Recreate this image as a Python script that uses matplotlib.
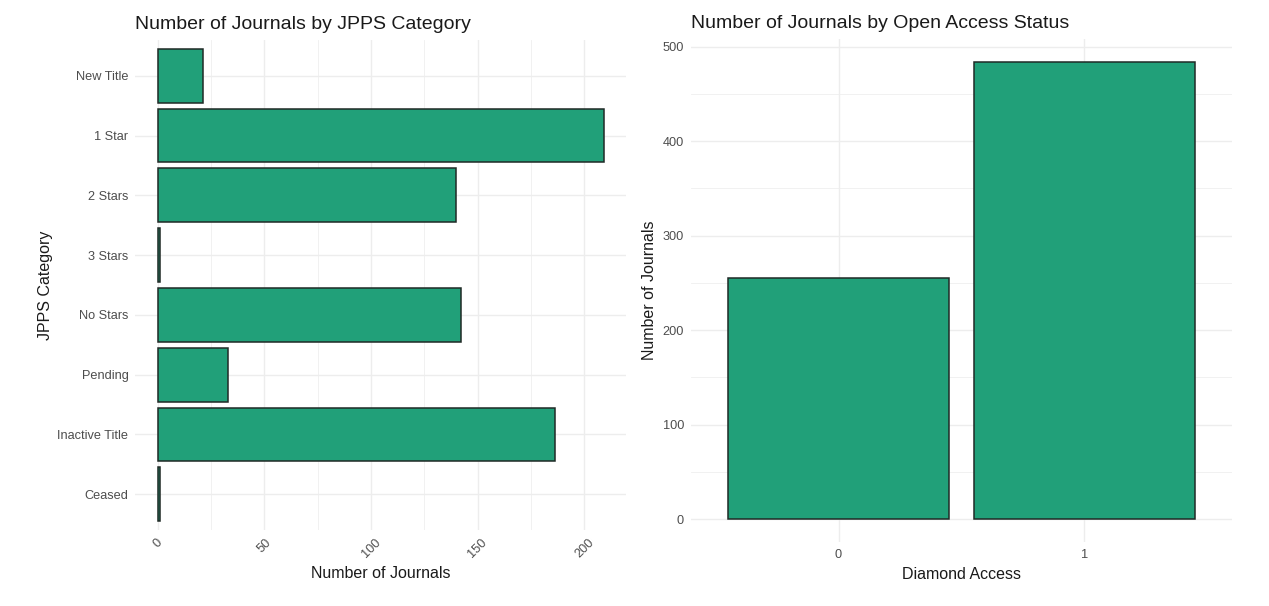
import matplotlib.pyplot as plt
from matplotlib.ticker import MultipleLocator

plt.rcParams['font.family'] = ['Liberation Sans', 'DejaVu Sans']

# datos
categorias = ['New Title', '1 Star', '2 Stars', '3 Stars', 'No Stars', 'Pending',
              'Inactive Title', 'Ceased']
revistas_cat = [21, 209, 140, 1, 142, 33, 186, 1]

acceso = ['0', '1']
revistas_acceso = [255, 484]

relleno = '#21a079'
borde = '#1f2a26'
rejilla = '#ededed'
gris_ticks = '#4d4d4d'

fig = plt.figure(figsize=(12.69, 6.06), dpi=100)
ax1 = fig.add_axes([0.1067, 0.1254, 0.3866, 0.8086])
ax2 = fig.add_axes([0.5445, 0.1056, 0.4263, 0.830])


def estilo(ax):
    for s in ax.spines.values():
        s.set_visible(False)
    ax.set_axisbelow(True)
    ax.tick_params(which='both', length=0, colors=gris_ticks, labelsize=9.2, pad=5)


# panel izquierdo: barras horizontales
pos = list(range(len(categorias)))
ax1.barh(pos, revistas_cat, height=0.9, color=relleno, edgecolor=borde, linewidth=1.1)
ax1.set_ylim(len(categorias) - 0.4, -0.6)
ax1.set_xlim(-10.45, 219.45)
ax1.set_yticks(pos)
ax1.set_yticklabels(categorias)
ax1.xaxis.set_major_locator(MultipleLocator(50))
ax1.xaxis.set_minor_locator(MultipleLocator(25))
ax1.grid(which='major', color=rejilla, linewidth=1.0)
ax1.grid(which='minor', axis='x', color=rejilla, linewidth=0.55)
estilo(ax1)
for lab in ax1.get_xticklabels():
    lab.set_rotation(45)
    lab.set_ha('center')
ax1.set_xlabel('Number of Journals', fontsize=11.5, color='#1a1a1a', labelpad=4)
ax1.set_ylabel('JPPS Category', fontsize=11.5, color='#1a1a1a', labelpad=3)
ax1.set_title('Number of Journals by JPPS Category', fontsize=14, color='#1a1a1a',
              loc='left', pad=8)

# panel derecho: barras verticales
pos2 = list(range(len(acceso)))
ax2.bar(pos2, revistas_acceso, width=0.9, color=relleno, edgecolor=borde, linewidth=1.1)
ax2.set_xlim(-0.6, 1.6)
ax2.set_ylim(-24.2, 508.2)
ax2.set_xticks(pos2)
ax2.set_xticklabels(acceso)
ax2.yaxis.set_major_locator(MultipleLocator(100))
ax2.yaxis.set_minor_locator(MultipleLocator(50))
ax2.grid(which='major', color=rejilla, linewidth=1.0)
ax2.grid(which='minor', axis='y', color=rejilla, linewidth=0.55)
estilo(ax2)
ax2.set_xlabel('Diamond Access', fontsize=11.5, color='#1a1a1a', labelpad=4)
ax2.set_ylabel('Number of Journals', fontsize=11.5, color='#1a1a1a', labelpad=4)
ax2.set_title('Number of Journals by Open Access Status', fontsize=14, color='#1a1a1a',
              loc='left', pad=8)

fig.savefig('out.png', dpi=100, facecolor='white')
